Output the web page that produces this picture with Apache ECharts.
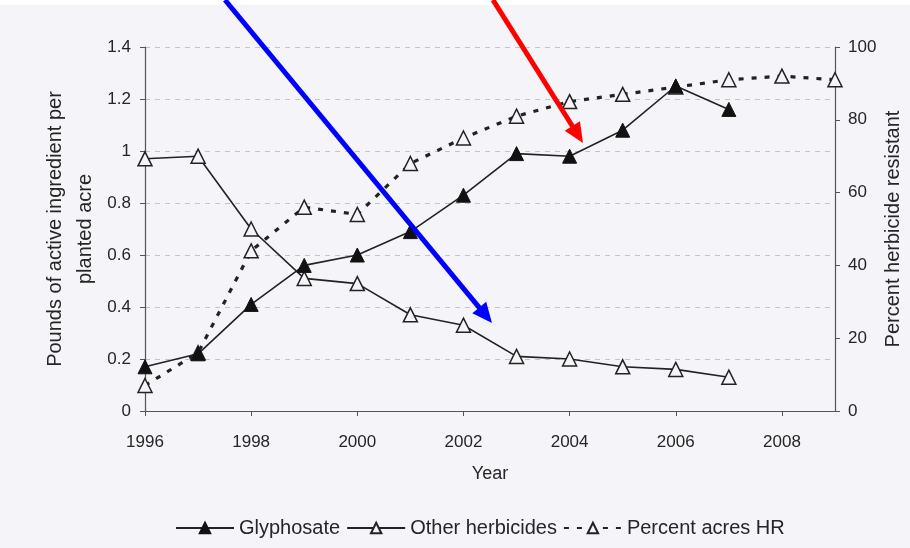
<!DOCTYPE html>
<html>
<head>
<meta charset="utf-8">
<script src="https://cdn.jsdelivr.net/npm/echarts@6/dist/echarts.min.js"></script>
<style>
html,body{margin:0;padding:0;background:#f4f4f9;}
#c{width:910px;height:548px;}
</style>
</head>
<body>
<div id="c"></div>
<script>
var years = [1996,1997,1998,1999,2000,2001,2002,2003,2004,2005,2006,2007];
var hrYears = [1996,1997,1998,1999,2000,2001,2002,2003,2004,2005,2006,2007,2008,2009];
var glyphosate = [0.17,0.22,0.41,0.56,0.60,0.69,0.83,0.99,0.98,1.08,1.25,1.16];
var otherHerbicides = [0.97,0.98,0.70,0.51,0.49,0.37,0.33,0.21,0.20,0.17,0.16,0.13];
var percentHR = [7,16,44,56,54,68,75,81,85,87,89,91,92,91];
var seriesNames = ['Glyphosate','Other herbicides','Percent acres HR'];

function pairs(xs, ys){ return xs.map(function(x,i){ return [x, ys[i]]; }); }

var FONT = 'Liberation Sans, Arial, sans-serif';
var TXT = '#262626';
var AX = '#555';
var BG = '#f4f4f9';

function arrow(x1,y1,x2,y2,color){
  var dx = x2-x1, dy = y2-y1, L = Math.sqrt(dx*dx+dy*dy);
  var ux = dx/L, uy = dy/L, head = 20, half = 9;
  var bx = x2-ux*head, by = y2-uy*head;
  return [
    {type:'line', z:100, shape:{x1:x1,y1:y1,x2:bx+ux*2,y2:by+uy*2}, style:{stroke:color,lineWidth:5}},
    {type:'polygon', z:100, shape:{points:[[x2,y2],[bx-uy*half,by+ux*half],[bx+uy*half,by-ux*half]]}, style:{fill:color}}
  ];
}

var chart = echarts.init(document.getElementById('c'));
chart.setOption({
  backgroundColor:BG,
  animation:false,
  textStyle:{fontFamily:FONT, color:TXT},
  grid:{left:145, right:75, top:47, bottom:137, outerBoundsMode:'none', containLabel:false},
  legend:{
    top:513, left:170,
    itemWidth:58, itemHeight:13, itemGap:6,
    textStyle:{fontSize:20, color:TXT, fontFamily:FONT},
    data:seriesNames
  },
  xAxis:{
    type:'value', min:1996, max:2009, interval:2,
    name:'Year', nameLocation:'middle', nameGap:54,
    nameTextStyle:{fontSize:18, color:TXT},
    axisLine:{lineStyle:{color:AX, width:1.2}},
    axisTick:{show:true, length:5, lineStyle:{color:AX}},
    axisLabel:{fontSize:17, color:TXT, margin:23, showMaxLabel:false, formatter:function(v){return String(v);}},
    splitLine:{show:false}
  },
  yAxis:[{
    type:'value', min:0, max:1.4, interval:0.2, position:'left',
    name:'Pounds of active ingredient per\nplanted acre', nameLocation:'middle', nameGap:45, nameRotate:90,
    nameMoveOverlap:false,
    nameTextStyle:{fontSize:20, color:TXT, lineHeight:30},
    axisLine:{show:true, lineStyle:{color:AX, width:1.2}},
    axisTick:{show:true, length:5, lineStyle:{color:AX}},
    axisLabel:{fontSize:17, color:TXT, margin:14},
    splitLine:{show:true, lineStyle:{color:'#c4c4c8', type:[5,5], width:1}}
  },{
    type:'value', min:0, max:100, interval:20, position:'right',
    name:'Percent herbicide resistant', nameLocation:'middle', nameGap:48, nameRotate:90,
    nameMoveOverlap:false,
    nameTextStyle:{fontSize:20, color:TXT},
    axisLine:{show:true, lineStyle:{color:AX, width:1.2}},
    axisTick:{show:true, length:5, lineStyle:{color:AX}},
    axisLabel:{fontSize:17, color:TXT, margin:13},
    splitLine:{show:false}
  }],
  series:[{
    name:seriesNames[0], type:'line', yAxisIndex:0, z:4,
    data:pairs(years, glyphosate),
    symbol:'triangle', symbolSize:14,
    lineStyle:{color:'#222', width:1.6},
    itemStyle:{color:'#111', borderColor:'#111', borderWidth:1}
  },{
    name:seriesNames[1], type:'line', yAxisIndex:0, z:3,
    data:pairs(years, otherHerbicides),
    symbol:'triangle', symbolSize:14,
    lineStyle:{color:'#222', width:1.6},
    itemStyle:{color:BG, borderColor:'#222', borderWidth:1.5}
  },{
    name:seriesNames[2], type:'line', yAxisIndex:1, z:2,
    data:pairs(hrYears, percentHR),
    symbol:'triangle', symbolSize:14,
    lineStyle:{color:'#222', width:3.2, type:[5,8]},
    itemStyle:{color:BG, borderColor:'#222', borderWidth:1.5}
  }],
  graphic:[
    {type:'rect', z:0, shape:{x:0,y:0,width:910,height:5}, style:{fill:'#ffffff'}}
  ].concat(arrow(225,0,492,323,'#0000ff')).concat(arrow(493,0,583,143,'#ff0000'))
});
</script>
</body>
</html>
